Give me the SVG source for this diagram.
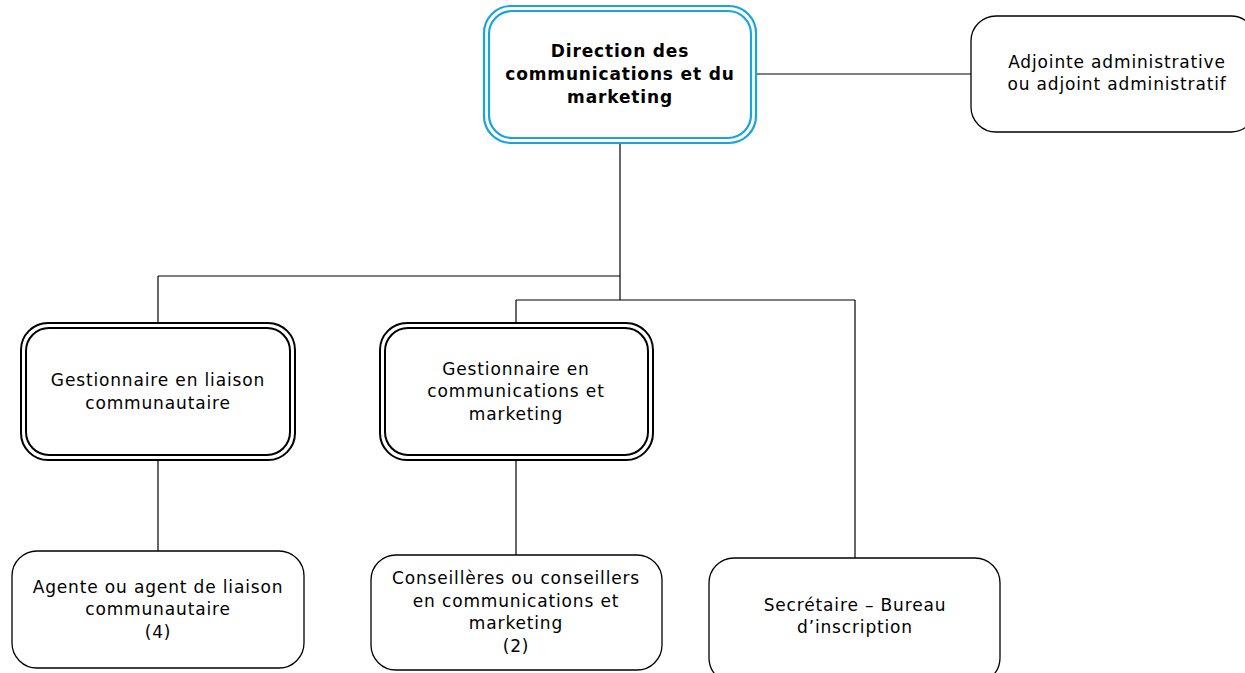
<svg xmlns="http://www.w3.org/2000/svg" width="1245" height="673" viewBox="0 0 1245 673">
<style>
.box{fill:#fff;stroke:#000;stroke-width:1.3}
.dbl{fill:none;stroke:#000;stroke-width:2}
.blue{fill:none;stroke:#1aa3dc;stroke-width:2.2}
.t{font-family:"DejaVu Sans",Verdana,sans-serif;font-size:17px;letter-spacing:0.85px;fill:#000;text-anchor:middle}
.b{font-weight:bold}
.c{fill:none;stroke:#000;stroke-width:1.2}
</style>
<rect width="1245" height="673" fill="#fff"/>
<g id="connectors">
<path class="c" d="M756,74 H971"/>
<path class="c" d="M620,143 V300"/>
<path class="c" d="M158,276 H620"/>
<path class="c" d="M158,276 V323"/>
<path class="c" d="M516,300 H855"/>
<path class="c" d="M516,300 V323"/>
<path class="c" d="M855,300 V558"/>
<path class="c" d="M158,460 V551"/>
<path class="c" d="M516,460 V555"/>
</g>
<g id="direction">
<rect x="484" y="6" width="272" height="137" rx="27" fill="#fff" class="blue"/>
<rect x="489" y="11" width="262" height="127" rx="23" class="blue"/>
<text class="t b" x="620" y="57">Direction des</text>
<text class="t b" x="620" y="80">communications et du</text>
<text class="t b" x="620" y="103">marketing</text>
</g>
<g id="adjointe">
<rect class="box" x="971" y="16" width="285" height="116" rx="25"/>
<text class="t" x="1117" y="68">Adjointe administrative</text>
<text class="t" x="1117" y="90">ou adjoint administratif</text>
</g>
<g id="gest-liaison">
<rect x="21" y="323" width="274" height="137" rx="27" fill="#fff" class="dbl"/>
<rect x="26" y="328" width="264" height="127" rx="23" class="dbl"/>
<text class="t" x="158" y="386">Gestionnaire en liaison</text>
<text class="t" x="158" y="409">communautaire</text>
</g>
<g id="gest-comm">
<rect x="380" y="323" width="273" height="137" rx="27" fill="#fff" class="dbl"/>
<rect x="385" y="328" width="263" height="127" rx="23" class="dbl"/>
<text class="t" x="516" y="375">Gestionnaire en</text>
<text class="t" x="516" y="397">communications et</text>
<text class="t" x="516" y="420">marketing</text>
</g>
<g id="agente">
<rect class="box" x="12" y="551" width="292" height="117" rx="25"/>
<text class="t" x="158" y="593">Agente ou agent de liaison</text>
<text class="t" x="158" y="615">communautaire</text>
<text class="t" x="158" y="638">(4)</text>
</g>
<g id="conseilleres">
<rect class="box" x="371" y="555" width="291" height="115" rx="25"/>
<text class="t" x="516" y="584">Conseillères ou conseillers</text>
<text class="t" x="516" y="607">en communications et</text>
<text class="t" x="516" y="629">marketing</text>
<text class="t" x="516" y="652">(2)</text>
</g>
<g id="secretaire">
<rect class="box" x="709" y="558" width="291" height="125" rx="25"/>
<text class="t" x="855" y="611">Secrétaire – Bureau</text>
<text class="t" x="855" y="633">d’inscription</text>
</g>
</svg>
